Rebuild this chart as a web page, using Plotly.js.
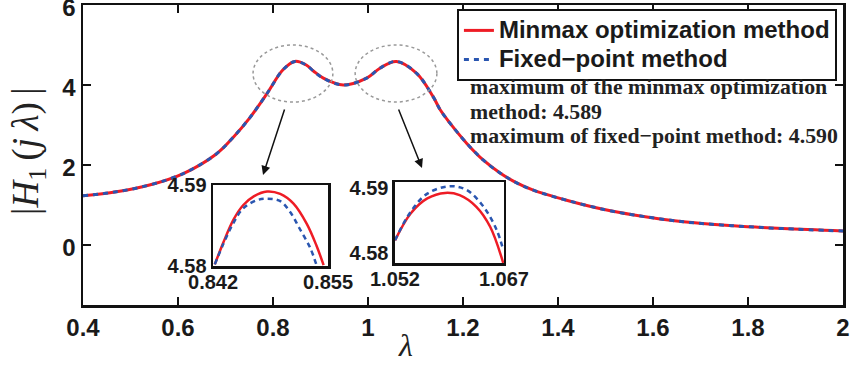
<!DOCTYPE html>
<html>
<head>
<meta charset="utf-8">
<script src="https://cdn.plot.ly/plotly-3.0.1.min.js"></script>
<style>html,body{margin:0;padding:0;background:#fff;}#chart{width:852px;height:366px;}</style>
</head>
<body>
<div id="chart"></div>
<script>
// Main curve
var lambda = [0.40,0.47,0.54,0.61,0.68,0.716,0.751,0.787,0.821,0.846,0.87,0.885,0.906,0.948,0.997,1.025,1.06,1.1025,1.137,1.152,1.173,1.208,1.243,1.278,1.31,1.348,1.418,1.50,1.56,1.664,1.769,1.874,2.00];
var minmaxH = [1.23,1.33,1.50,1.78,2.27,2.69,3.18,3.78,4.38,4.589,4.50,4.35,4.17,4.00,4.17,4.42,4.589,4.29,3.71,3.38,3.04,2.54,2.12,1.80,1.57,1.37,1.12,0.88,0.75,0.58,0.48,0.41,0.35];
var fixedH  = [1.23,1.33,1.50,1.78,2.27,2.69,3.18,3.78,4.38,4.588,4.50,4.35,4.17,4.00,4.17,4.42,4.590,4.29,3.71,3.38,3.04,2.54,2.12,1.80,1.57,1.37,1.12,0.88,0.75,0.58,0.48,0.41,0.35];

// Left zoom (first peak)
var zoom1MinmaxX = [0.8422,0.8432,0.8443,0.8454,0.8466,0.8481,0.8496,0.8511,0.8526,0.8537,0.8545];
var zoom1MinmaxY = [4.5802,4.5830,4.5857,4.5875,4.5886,4.5892,4.5889,4.5877,4.5852,4.5825,4.5801];
var zoom1FixedX  = [0.8422,0.8432,0.8443,0.8454,0.8469,0.8481,0.8496,0.8507,0.8518,0.8530,0.8537];
var zoom1FixedY  = [4.5802,4.5828,4.5853,4.5871,4.5881,4.5883,4.5880,4.5867,4.5846,4.5822,4.5801];

// Right zoom (second peak)
var zoom2MinmaxX = [1.0520,1.05416,1.05645,1.0589,1.0609,1.0632,1.0651,1.0669];
var zoom2MinmaxY = [4.5820,4.58615,4.58846,4.58932,4.58897,4.58717,4.58409,4.57850];
var zoom2FixedX  = [1.0520,1.05416,1.05645,1.0596,1.0619,1.0642,1.0660,1.0669];
var zoom2FixedY  = [4.5820,4.5864,4.5892,4.59035,4.58974,4.58717,4.58358,4.58051];

var xTicks = [0.4,0.6,0.8,1,1.2,1.4,1.6,1.8,2];
var xTickText = ['0.4','0.6','0.8','1','1.2','1.4','1.6','1.8','2'];
var yTicks = [0,2,4,6];
var yTickText = ['0','2','4','6'];
var zoom1XTicks = [0.842,0.855], zoom1XText = ['0.842','0.855'];
var zoom1YTicks = [4.58,4.59],   zoom1YText = ['4.58','4.59'];
var zoom2XTicks = [1.052,1.067], zoom2XText = ['1.052','1.067'];
var zoom2YTicks = [4.58,4.59],   zoom2YText = ['4.58','4.59'];

var RED = '#ee1c25', BLUE = '#2a56b0';
var sans = 'Liberation Sans, Arial, sans-serif';
var serif = 'Liberation Serif, Times New Roman, serif';
function bold(a){ return a.map(function(s){ return '<b>' + s + '</b>'; }); }

var traces = [
  {x: lambda, y: minmaxH, type:'scatter', mode:'lines', name:'<span style="font-size:24px">Minmax optimization method</span>',
   line:{color:RED, width:3, shape:'spline', smoothing:1}, xaxis:'x', yaxis:'y'},
  {x: lambda, y: fixedH, type:'scatter', mode:'lines', name:'<span style="font-size:24px">Fixed\u2212point method</span>',
   line:{color:BLUE, width:3, dash:'5px,5px', shape:'spline', smoothing:1}, xaxis:'x', yaxis:'y'},
  {x: zoom1MinmaxX, y: zoom1MinmaxY, type:'scatter', mode:'lines', showlegend:false,
   line:{color:RED, width:2.5, shape:'spline'}, xaxis:'x2', yaxis:'y2'},
  {x: zoom1FixedX, y: zoom1FixedY, type:'scatter', mode:'lines', showlegend:false,
   line:{color:BLUE, width:2.5, dash:'5px,4px', shape:'spline'}, xaxis:'x2', yaxis:'y2'},
  {x: zoom2MinmaxX, y: zoom2MinmaxY, type:'scatter', mode:'lines', showlegend:false,
   line:{color:RED, width:2.5, shape:'spline'}, xaxis:'x3', yaxis:'y3'},
  {x: zoom2FixedX, y: zoom2FixedY, type:'scatter', mode:'lines', showlegend:false,
   line:{color:BLUE, width:2.5, dash:'5px,4px', shape:'spline'}, xaxis:'x3', yaxis:'y3'}
];

var tickFont = {family:sans, size:24, color:'#1a1a1a'};
var insetFont = {family:sans, size:20, color:'#1a1a1a'};

function insetAxis(domain, range, ticks, text, anchor, standoff){
  return {domain:domain, range:range, anchor:anchor, tickvals:ticks, ticktext:bold(text),
    showline:true, mirror:true, linecolor:'#111', linewidth:2.5, ticks:'', showgrid:false,
    zeroline:false, tickfont:insetFont, fixedrange:true, ticklabelstandoff:standoff};
}

var layout = {
  width:852, height:366,
  margin:{l:83, r:9, t:5, b:61, pad:0},
  paper_bgcolor:'#fff', plot_bgcolor:'rgba(0,0,0,0)',
  showlegend:true,
  legend:{x:0.492, y:0.987, xanchor:'left', yanchor:'top', bgcolor:'#fff',
    bordercolor:'#111', borderwidth:2, font:{family:sans, size:20, color:'#1a1a1a', weight:'bold'},
    itemwidth:30, tracegroupgap:0},
  xaxis:{domain:[0,1], range:[0.4,2], anchor:'y', tickvals:xTicks, ticktext:bold(xTickText),
    ticks:'inside', ticklen:8, tickwidth:2, tickcolor:'#111', showline:true, mirror:'allticks',
    linecolor:'#111', linewidth:2.5, showgrid:false, zeroline:false, tickfont:tickFont,
    ticklabeloverflow:'allow'},
  yaxis:{domain:[0,1], range:[-1.5,6.0001], anchor:'x', tickvals:yTicks, ticktext:bold(yTickText),
    ticks:'inside', ticklen:8, tickwidth:2, tickcolor:'#111', showline:true, mirror:'allticks',
    linecolor:'#111', linewidth:2.5, showgrid:false, zeroline:false, tickfont:tickFont,
    ticklabeloverflow:'allow', ticklabelshift:3},
  xaxis2: insetAxis([0.1711,0.3224],[0.842,0.855],zoom1XTicks,zoom1XText,'y2',-4),
  yaxis2: insetAxis([0.13,0.40],[4.58,4.59],zoom1YTicks,zoom1YText,'x2',0),
  xaxis3: insetAxis([0.4105,0.5539],[1.052,1.067],zoom2XTicks,zoom2XText,'y3',-4),
  yaxis3: insetAxis([0.14,0.41],[4.5785,4.5910],zoom2YTicks,zoom2YText,'x3',0),
  shapes:[
    {type:'circle', xref:'x', yref:'y', x0:0.758, x1:0.926, y0:3.575, y1:5.0,
     line:{color:'#999', width:1.5, dash:'dot'}},
    {type:'circle', xref:'x', yref:'y', x0:0.973, x1:1.145, y0:3.575, y1:5.0,
     line:{color:'#999', width:1.5, dash:'dot'}}
  ],
  annotations:[
    {x:0.4237, y:-0.1333, xref:'paper', yref:'paper', xanchor:'center', yanchor:'middle', showarrow:false,
     text:'<i>λ</i>', font:{family:serif, size:32, color:'#222'}},
    {x:-0.0724, y:0.5133, xref:'paper', yref:'paper', xanchor:'center', yanchor:'middle', showarrow:false,
     textangle:-90, text:'|<i>H</i><sub>1</sub>\u2009(<i>j</i>\u2009<i>λ</i>)\u2009|', font:{family:serif, size:37, color:'#222'}},
    {x:0.779, y:1.75, xref:'x', yref:'y', ax:0.8253, ay:3.425, axref:'x', ayref:'y',
     showarrow:true, arrowhead:2, arrowsize:1.2, arrowwidth:1.5, arrowcolor:'#111', text:''},
    {x:1.1137, y:1.925, xref:'x', yref:'y', ax:1.0632, ay:3.425, axref:'x', ayref:'y',
     showarrow:true, arrowhead:2, arrowsize:1.2, arrowwidth:1.5, arrowcolor:'#111', text:''},
    {x:0.5066, y:0.7267, xref:'paper', yref:'paper', xanchor:'left', yanchor:'middle', showarrow:false,
     text:'<b>maximum of the minmax optimization</b>', font:{family:serif, size:21.8, color:'#222'}},
    {x:0.5066, y:0.6433, xref:'paper', yref:'paper', xanchor:'left', yanchor:'middle', showarrow:false,
     text:'<b>method: 4.589</b>', font:{family:serif, size:21.8, color:'#222'}},
    {x:0.5066, y:0.5633, xref:'paper', yref:'paper', xanchor:'left', yanchor:'middle', showarrow:false,
     text:'<b>maximum of fixed\u2212point method: 4.590</b>', font:{family:serif, size:21.8, color:'#222'}}
  ]
};

Plotly.newPlot('chart', traces, layout, {staticPlot:true, displayModeBar:false});
</script>
</body>
</html>
